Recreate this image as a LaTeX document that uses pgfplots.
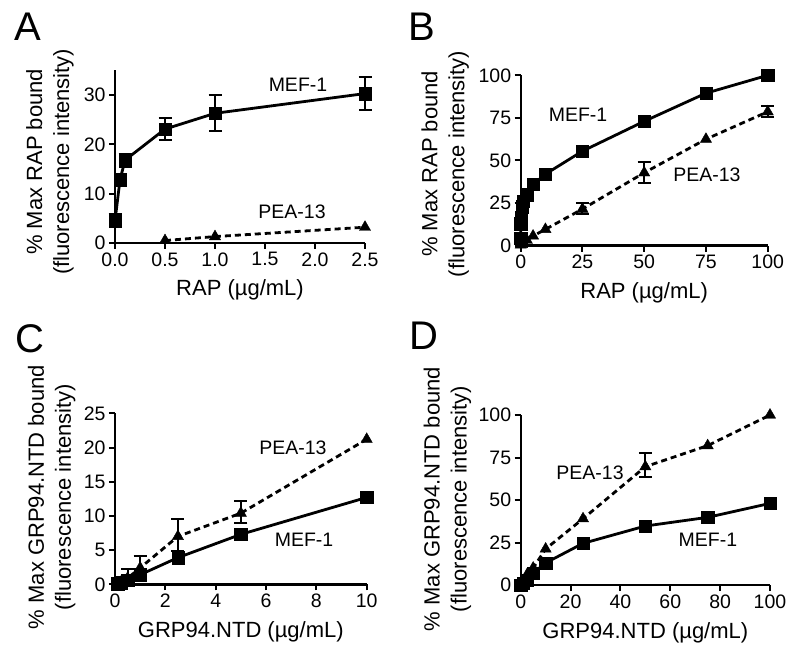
\documentclass[border=0pt]{standalone}
\usepackage{fontspec}
\setmainfont{Liberation Sans}
\usepackage{pgfplots}
\pgfplotsset{compat=1.18}

\pgfplotsset{
  panel/.style={
    scale only axis,
    axis lines=left,
    axis line style={-, line width=2.4pt, black},
    tick style={line width=2pt, black},
    tick align=outside,
    major tick length=6pt,
    tick label style={font=\fontsize{19.5}{19.5}\selectfont},
    label style={font=\fontsize{22}{27}\selectfont, align=center, anchor=center},
    /pgf/number format/assume math mode=true,
    clip=false,
    xmin=0, ymin=0,
  },
  mef/.style={black, line width=2.8pt, mark=square*, mark size=6.2pt, mark options={solid, line width=0.4pt}},
  pea/.style={black, line width=2.8pt, dash pattern=on 6pt off 4pt, mark=triangle*, mark size=6.5pt, mark options={solid, line width=0.4pt}},
  ebar/.style={draw=none, mark=none, forget plot,
    error bars/.cd, y dir=both, y explicit,
    error bar style={draw=black, line width=2pt, solid},
    error mark options={black, line width=2pt, mark size=6.5pt, solid, rotate=90}},
}
\tikzset{curvelabel/.style={font=\fontsize{19.5}{19.5}\selectfont}}

\begin{document}
\begin{tikzpicture}
\useasboundingbox (0,0) rectangle (800pt,662pt);

\node[font=\fontsize{40}{40}\selectfont] at (28pt,635pt) {A};
\node[font=\fontsize{40}{40}\selectfont] at (422pt,635pt) {B};
\node[font=\fontsize{40}{40}\selectfont] at (30pt,323pt) {C};
\node[font=\fontsize{40}{40}\selectfont] at (424pt,326pt) {D};

% A
\begin{axis}[panel, at={(115pt,419pt)}, anchor=south west,
  width=250pt, height=172.6pt,
  xmax=2.5, ymax=35,
  xtick={0,0.5,1,1.5,2,2.5}, ytick={0,10,20,30},
  xticklabel style={/pgf/number format/.cd, fixed, fixed zerofill, precision=1},
  xlabel={RAP (µg/mL)},
  ylabel={\% Max RAP bound\\(fluorescence intensity)},
  xlabel style={at={(axis description cs:0.5,-0.272)}},
  ylabel style={at={(axis description cs:-0.26,0.47)}},
]
\addplot[mef] coordinates {(0,4.5) (0.05,12.8) (0.1,16.8) (0.5,23.1) (1,26.3) (2.5,30.3)};
\addplot[ebar] coordinates {
  (0,4.5) += (0,1.3) -= (0,1.0)
  (0.1,16.8) += (0,1.3) -= (0,1.3)
  (0.5,23.1) += (0,2.3) -= (0,2.3)
  (1,26.3) += (0,3.7) -= (0,3.6)
  (2.5,30.3) += (0,3.3) -= (0,3.3)};
\addplot[pea] coordinates {(0.5,0.5) (1,1.3) (2.5,3.2)};
\node[curvelabel] at (axis cs:1.83,32.0) {MEF-1};
\node[curvelabel] at (axis cs:1.77,6.3) {PEA-13};
\end{axis}

% B
\begin{axis}[panel, at={(520.7pt,416.3pt)}, anchor=south west,
  width=247pt, height=170.4pt,
  xmax=100, ymax=100,
  xtick={0,25,50,75,100}, ytick={0,25,50,75,100},
  xlabel={RAP (µg/mL)},
  ylabel={\% Max RAP bound\\(fluorescence intensity)},
  xlabel style={at={(axis description cs:0.5,-0.276)}},
  ylabel style={at={(axis description cs:-0.306,0.48)}},
]
\addplot[mef] coordinates {(0,4.5) (0.05,12.8) (0.1,16.8) (0.5,23) (1,26) (2.5,30) (5,36) (10,42) (25,55.5) (50,73) (75,89.5) (100,100)};
\addplot[pea] coordinates {(0,0.5) (0.5,0.8) (1,1.3) (2.5,3.2) (5,5.7) (10,9.6) (25,21.5) (50,42.8) (75,62.5) (100,78.6)};
\addplot[ebar] coordinates {
  (25,21.5) += (0,3.7) -= (0,3.1)
  (50,42.8) += (0,6.3) -= (0,5.8)
  (100,78.6) += (0,3.4) -= (0,3.3)};
\node[curvelabel] at (axis cs:23.2,76.7) {MEF-1};
\node[curvelabel] at (axis cs:75.4,41.5) {PEA-13};
\end{axis}

% C
\begin{axis}[panel, at={(115pt,77.7pt)}, anchor=south west,
  width=251.7pt, height=171pt,
  xmax=10, ymax=25,
  xtick={0,2,4,6,8,10}, ytick={0,5,10,15,20,25},
  xlabel={GRP94.NTD (µg/mL)},
  ylabel={\% Max GRP94.NTD bound\\(fluorescence intensity)},
  xlabel style={at={(axis description cs:0.5,-0.275)}},
  ylabel style={at={(axis description cs:-0.252,0.51)}},
]
\addplot[mef] coordinates {(0.1,0.1) (0.25,0.2) (0.5,0.6) (1,1.4) (2.5,3.9) (5,7.3) (10,12.7)};
\addplot[ebar] coordinates {(10,12.7) += (0,0.5) -= (0,0.5)};
\addplot[pea] coordinates {(0.25,0.4) (0.5,0.9) (1,2.4) (2.5,7.0) (5,10.4) (10,21.2)};
\addplot[ebar] coordinates {
  (0.25,0.4) += (0,0.6) -= (0,0.4)
  (0.5,0.9) += (0,1.3) -= (0,0.9)
  (1,2.4) += (0,1.7) -= (0,1.5)
  (2.5,7.0) += (0,2.5) -= (0,2.1)
  (5,10.4) += (0,1.8) -= (0,1.4)};
\node[curvelabel] at (axis cs:7.07,19.9) {PEA-13};
\node[curvelabel] at (axis cs:7.51,6.5) {MEF-1};
\end{axis}

% D
\begin{axis}[panel, at={(520.7pt,77pt)}, anchor=south west,
  width=249.3pt, height=170pt,
  xmax=100, ymax=100,
  xtick={0,20,40,60,80,100}, ytick={0,25,50,75,100},
  xlabel={GRP94.NTD (µg/mL)},
  ylabel={\% Max GRP94.NTD bound\\(fluorescence intensity)},
  xlabel style={at={(axis description cs:0.5,-0.282)}},
  ylabel style={at={(axis description cs:-0.294,0.506)}},
]
\addplot[mef] coordinates {(0,0) (1,1) (2.5,3) (5,7) (10,13) (25,24.5) (50,34.7) (75,39.8) (100,48)};
\addplot[pea] coordinates {(0,0) (1,2) (2.5,6) (5,10) (10,21.2) (25,39) (50,69.6) (75,82) (100,100)};
\addplot[ebar] coordinates {(50,69.6) += (0,7.9) -= (0,6.2)};
\node[curvelabel] at (axis cs:27.8,65.9) {PEA-13};
\node[curvelabel] at (axis cs:75.1,26.5) {MEF-1};
\end{axis}
\end{tikzpicture}
\end{document}
